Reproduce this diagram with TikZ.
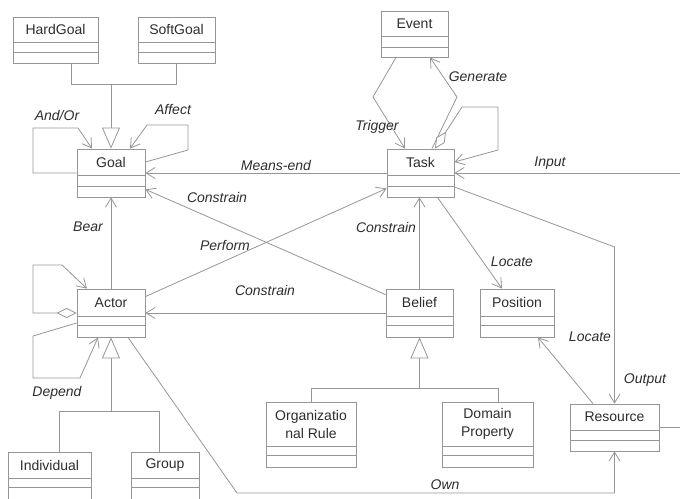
\documentclass[tikz,border=0pt]{standalone}
\usepackage{fontspec}
\setmainfont{Liberation Sans}
\usetikzlibrary{arrows.meta,fit,calc}
\definecolor{edgegray}{RGB}{150,150,150}
\definecolor{inkgray}{RGB}{45,45,45}
\tikzset{
  conn/.style={draw=edgegray, line width=0.8pt, line join=miter},
  assoc/.style={conn, -{Straight Barb[length=9pt,width=11pt]}},
  gen/.style={conn, -{Triangle[open,length=21pt,width=18pt,fill=white]}},
  aggr/.style={conn, {Diamond[open,length=20pt,width=10pt,fill=white]}-{Straight Barb[length=9pt,width=11pt]}},
  clsbox/.style={draw=edgegray, line width=0.8pt, inner sep=0pt},
  clsname/.style={text=inkgray, font=\fontsize{14}{18}\selectfont, align=center, inner sep=0pt},
  rolelabel/.style={text=inkgray, font=\fontsize{14}{16}\selectfont\itshape, inner sep=0pt},
}
% UML class: id, left, top, right, bottom, first separator, second separator, title
\newcommand\umlclass[8]{%
  \node[clsbox, fit={(#2,#3) (#4,#5)}] (#1) {};
  \draw[conn] (#2,#6) -- (#4,#6);
  \draw[conn] (#2,#7) -- (#4,#7);
  \node[clsname] (#1-title) at ({(#2+#4)/2},{(#3+#6)/2}) {#8};
}
\begin{document}
\begin{tikzpicture}[x=1pt,y=-1pt]
\useasboundingbox (0,0) rectangle (680,498);

% classes
\umlclass{hardgoal}{13}{17}{98}{63}{42}{52}{HardGoal}
\umlclass{softgoal}{138}{17}{215}{63}{42}{52}{SoftGoal}
\umlclass{event}{381}{11}{448}{57}{36}{47}{Event}
\umlclass{goal}{77}{149}{145}{197}{175}{186}{Goal}
\umlclass{task}{387}{149}{454}{197}{175}{186}{Task}
\umlclass{actor}{77}{289}{145}{337}{316}{325}{Actor}
\umlclass{belief}{386}{289}{453}{337}{316}{325}{Belief}
\umlclass{position}{480}{289}{554}{337}{316}{325}{Position}
\umlclass{orgrule}{266}{402}{356}{467}{446}{455}{Organizatio\\nal Rule}
\umlclass{domprop}{442}{402}{533}{467}{446}{455}{Domain\\Property}
\umlclass{resource}{570}{404}{659}{451}{430}{440}{Resource}
\umlclass{individual}{8}{452}{91}{500}{478}{487}{Individual}
\umlclass{group}{131}{452}{199}{500}{478}{487}{Group}

% generalizations
\draw[conn] ([xshift=15.5pt]hardgoal.south) |- (softgoal.south |- 0,84) -- (softgoal.south);
\draw[gen] (goal.north |- 0,84) -- (goal.north);

\coordinate (inddrop) at ([xshift=9.5pt]individual.north);
\coordinate (grpdrop) at ([xshift=-6pt]group.north);
\draw[conn] (inddrop) |- (grpdrop |- 0,411) -- (grpdrop);
\draw[gen] (actor.south |- 0,411) -- (actor.south);

\coordinate (dpdrop) at ([xshift=10.5pt]domprop.north);
\draw[conn] (orgrule.north) |- (dpdrop |- 0,388) -- (dpdrop);
\draw[gen] (belief.south |- 0,388) -- (belief.south);

% associations
\draw[assoc] (task.west) -- (goal.east);
\coordinate (inputend) at (680,173);
\draw[assoc] (inputend) -- (task.east);
\draw[assoc] (actor.north) -- (goal.south);
\draw[assoc] (belief.north) -- (belief.north |- task.south);
\draw[assoc] (belief.west) -- (actor.east);
\draw[assoc] ([yshift=-6pt]belief.north west) -- ([yshift=8pt]goal.south east);
\draw[assoc] ([yshift=-8pt]actor.north east) -- ([yshift=9pt]task.south west);
\draw[assoc] ([xshift=17pt]task.south) -- ([xshift=-15pt]position.north);
\draw[assoc] ([xshift=-21.5pt]resource.north) -- ([xshift=21pt]position.south);
\draw[assoc] ([yshift=-14pt]task.east) -- (resource.north |- 0,247) -- (resource.north);
\draw[assoc] ([xshift=17pt]actor.south) -- (237,493) -- (resource.south |- 0,493) -- (resource.south);
\coordinate (resend) at (680,427.5);
\draw[conn] (resource.east) -- (resend);

% reflexive and paired links
\draw[assoc] (goal.west) -- (33,173) -- (33,128) -- (78,128) -- ([xshift=-19pt]goal.north);
\draw[assoc] ([yshift=11pt]goal.east) -- (188,150) -- (188,125) -- (147,125) -- ([xshift=19pt]goal.north);
\draw[assoc] ([xshift=-18.5pt]event.south) -- (373,97) -- ([xshift=-15.5pt]task.north);
\draw[assoc] ([xshift=11.5pt]task.north) -- (457,97) -- ([xshift=15.5pt]event.south);
\draw[aggr] ([xshift=14.5pt]task.north) -- (462,107) -- (498,107) -- (498,150) -- ([yshift=11pt]task.east);
\draw[aggr] (actor.west) -- (33,313) -- (33,265) -- (62,265) -- ([xshift=-24pt]actor.north);
\draw[assoc] ([yshift=-10pt]actor.west) -- (33,336) -- (33,378) -- (80,378) -- ([xshift=-13pt]actor.south);

% role labels
\node[rolelabel] (l-andor) at (57,115) {And/Or};
\node[rolelabel] (l-affect) at (173,109) {Affect};
\node[rolelabel] (l-means) at (276,165) {Means-end};
\node[rolelabel] (l-cgoal) at (217,197) {Constrain};
\node[rolelabel] (l-perform) at (225,245) {Perform};
\node[rolelabel] (l-ctask) at (386,227) {Constrain};
\node[rolelabel] (l-cactor) at (265,290) {Constrain};
\node[rolelabel] (l-bear) at (88,227) {Bear};
\node[rolelabel] (l-trigger) at (377,127) {Trigger};
\node[rolelabel] (l-generate) at (478,77) {Generate};
\node[rolelabel] (l-input) at (550,163) {Input};
\node[rolelabel] (l-locate1) at (512,262) {Locate};
\node[rolelabel] (l-locate2) at (590,337) {Locate};
\node[rolelabel] (l-output) at (645,380) {Output};
\node[rolelabel] (l-own) at (445,485) {Own};
\node[rolelabel] (l-depend) at (57,393) {Depend};
\end{tikzpicture}
\end{document}
